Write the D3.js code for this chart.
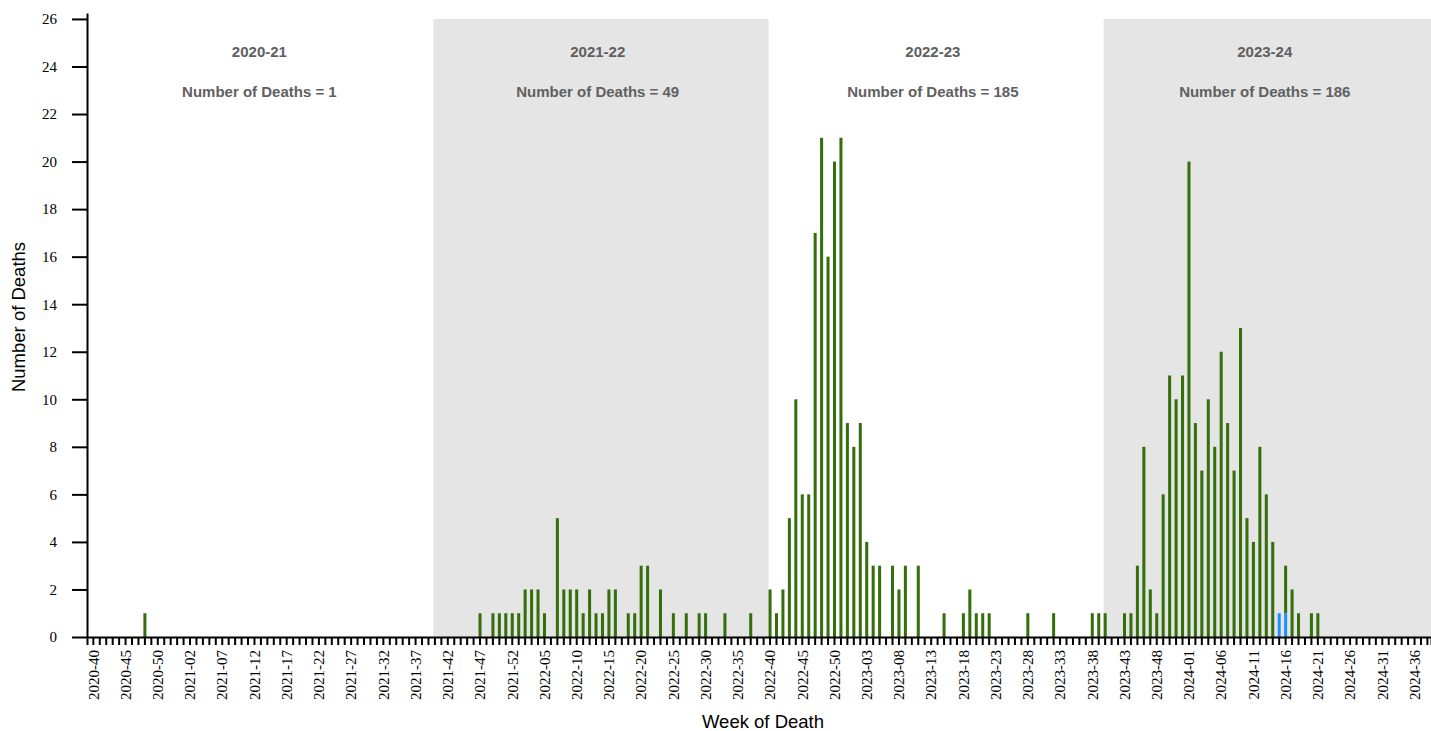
<!DOCTYPE html>
<html>
<head>
<meta charset="utf-8">
<script src="https://cdn.jsdelivr.net/npm/d3@7"></script>
<style>
  html, body { margin: 0; padding: 0; background: #fff; }
  svg { display: block; }
  .axis text { font-family: "Liberation Serif", "Times New Roman", serif; font-size: 15px; fill: #000; }
  .axis path, .axis line { stroke: #000; stroke-width: 2; }
  .title { font-family: "Liberation Sans", Arial, sans-serif; font-size: 18.5px; fill: #000; }
  .season { font-family: "Liberation Sans", Arial, sans-serif; font-size: 15px; font-weight: bold; fill: #606060; }
</style>
</head>
<body>
<svg id="chart" width="1431" height="731"></svg>
<script>
// ISO weeks shown on the axis: [year, first week, last week]
const weekSpans = [[2020, 40, 53], [2021, 1, 52], [2022, 1, 52], [2023, 1, 52], [2024, 1, 38]];
const weeks = [];
weekSpans.forEach(([yr, from, to]) => {
  for (let w = from; w <= to; w++) weeks.push(yr + "-" + String(w).padStart(2, "0"));
});

// Deaths by week of death (weeks with no deaths are omitted)
const confirmedWeeks = [
  "2020-48",
  "2021-47", "2021-49", "2021-50", "2021-51", "2021-52",
  "2022-01", "2022-02", "2022-03", "2022-04", "2022-05", "2022-07", "2022-08", "2022-09", "2022-10",
  "2022-11", "2022-12", "2022-13", "2022-14", "2022-15", "2022-16", "2022-18", "2022-19", "2022-20",
  "2022-21", "2022-23", "2022-25", "2022-27", "2022-29", "2022-30", "2022-33", "2022-37",
  "2022-40", "2022-41", "2022-42", "2022-43", "2022-44", "2022-45", "2022-46", "2022-47", "2022-48",
  "2022-49", "2022-50", "2022-51", "2022-52",
  "2023-01", "2023-02", "2023-03", "2023-04", "2023-05", "2023-07", "2023-08", "2023-09", "2023-11",
  "2023-15", "2023-18", "2023-19", "2023-20", "2023-21", "2023-22", "2023-28", "2023-32", "2023-38",
  "2023-39", "2023-40", "2023-43", "2023-44", "2023-45", "2023-46", "2023-47", "2023-48", "2023-49",
  "2023-50", "2023-51", "2023-52",
  "2024-01", "2024-02", "2024-03", "2024-04", "2024-05", "2024-06", "2024-07", "2024-08", "2024-09",
  "2024-10", "2024-11", "2024-12", "2024-13", "2024-14", "2024-16", "2024-17", "2024-18", "2024-20",
  "2024-21"
];
const confirmedCounts = [
  1,
  1, 1, 1, 1, 1,
  1, 2, 2, 2, 1, 5, 2, 2, 2,
  1, 2, 1, 1, 2, 2, 1, 1, 3,
  3, 2, 1, 1, 1, 1, 1, 1,
  2, 1, 2, 5, 10, 6, 6, 17, 21,
  16, 20, 21, 9,
  8, 9, 4, 3, 3, 3, 2, 3, 3,
  1, 1, 2, 1, 1, 1, 1, 1, 1,
  1, 1, 1, 1, 3, 8, 2, 1, 6,
  11, 10, 11,
  20, 9, 7, 10, 8, 12, 9, 7, 13,
  5, 4, 8, 6, 4, 2, 2, 1, 1,
  1
];
// Most recent weeks, shown in a second colour
const recentWeeks = ["2024-15", "2024-16"];
const recentCounts = [1, 1];

// Seasons run from week 40 to week 39
const seasonNames = ["2020-21", "2021-22", "2022-23", "2023-24"];
const seasonStarts = ["2020-40", "2021-40", "2022-40", "2023-40"];
const seasonEnds = ["2021-39", "2022-39", "2023-39", "2024-38"];
const seasonDeaths = [1, 49, 185, 186];
const shadedSeasons = ["2021-22", "2023-24"];

const yTicks = [0, 2, 4, 6, 8, 10, 12, 14, 16, 18, 20, 22, 24, 26];

const colors = { recent: "#1e90ff", confirmed: "#346f0c" };

// ---- layout ----
const svg = d3.select("#chart");
const plotLeft = 87, plotRight = 1431, plotTop = 13, plotBottom = 637;

const x = d3.scaleBand()
  .domain(weeks)
  .range([plotLeft, plotRight])
  .paddingInner(0.53)
  .paddingOuter(0.535)
  .align(0.7);

const yMax = d3.max(confirmedCounts) * 1.25;
const y = d3.scaleLinear().domain([0, yMax]).range([plotBottom, plotTop]);

// ---- season shading ----
const shadeEndX = i => (i + 1 < seasonStarts.length ? x(seasonStarts[i + 1]) : plotRight);

svg.append("g")
  .selectAll("rect")
  .data(seasonNames.map((s, i) => ({ s, i })).filter(d => shadedSeasons.includes(d.s)))
  .join("rect")
  .attr("x", d => x(seasonStarts[d.i]))
  .attr("y", y(d3.max(yTicks)))
  .attr("width", d => shadeEndX(d.i) - x(seasonStarts[d.i]))
  .attr("height", y(0) - y(d3.max(yTicks)))
  .attr("fill", "#e5e5e5");

// ---- stacked bars ----
const table = weeks.map(w => {
  const ci = confirmedWeeks.indexOf(w), ri = recentWeeks.indexOf(w);
  return { week: w, recent: ri >= 0 ? recentCounts[ri] : 0, confirmed: ci >= 0 ? confirmedCounts[ci] : 0 };
});
const series = d3.stack().keys(["recent", "confirmed"])(table);

svg.append("g")
  .selectAll("g")
  .data(series)
  .join("g")
  .attr("fill", d => colors[d.key])
  .selectAll("rect")
  .data(d => d.filter(p => p[1] > p[0]))
  .join("rect")
  .attr("x", d => x(d.data.week))
  .attr("width", x.bandwidth())
  .attr("y", d => y(d[1]))
  .attr("height", d => y(d[0]) - y(d[1]));

// ---- axes ----
svg.append("g")
  .attr("class", "axis")
  .attr("transform", `translate(${plotLeft},0)`)
  .call(d3.axisLeft(y).tickValues(yTicks).tickSize(15).tickPadding(15).tickSizeOuter(0));

const xAxis = svg.append("g")
  .attr("class", "axis")
  .attr("transform", `translate(0,${plotBottom})`)
  .call(d3.axisBottom(x)
    .tickSize(8)
    .tickSizeOuter(8)
    .tickFormat((d, i) => (i % 5 === 0 ? d : "")));
xAxis.selectAll("text")
  .attr("transform", "rotate(-90)")
  .attr("x", -13)
  .attr("y", 0)
  .attr("dy", "0.35em")
  .style("text-anchor", "end");

// ---- season labels, centred between the season's first and last week ----
const labels = svg.append("g");
seasonNames.forEach((s, i) => {
  const cx = (x(seasonStarts[i]) + x(seasonEnds[i])) / 2;
  labels.append("text").attr("class", "season").attr("x", cx).attr("y", 57)
    .attr("text-anchor", "middle").text(s);
  labels.append("text").attr("class", "season").attr("x", cx).attr("y", 97)
    .attr("text-anchor", "middle").text("Number of Deaths = " + seasonDeaths[i]);
});

// ---- axis titles ----
svg.append("text").attr("class", "title")
  .attr("transform", "translate(25,317) rotate(-90)")
  .attr("text-anchor", "middle")
  .text("Number of Deaths");
svg.append("text").attr("class", "title")
  .attr("x", (plotLeft + plotRight) / 2 + 4).attr("y", 728)
  .attr("text-anchor", "middle")
  .text("Week of Death");
</script>
</body>
</html>
